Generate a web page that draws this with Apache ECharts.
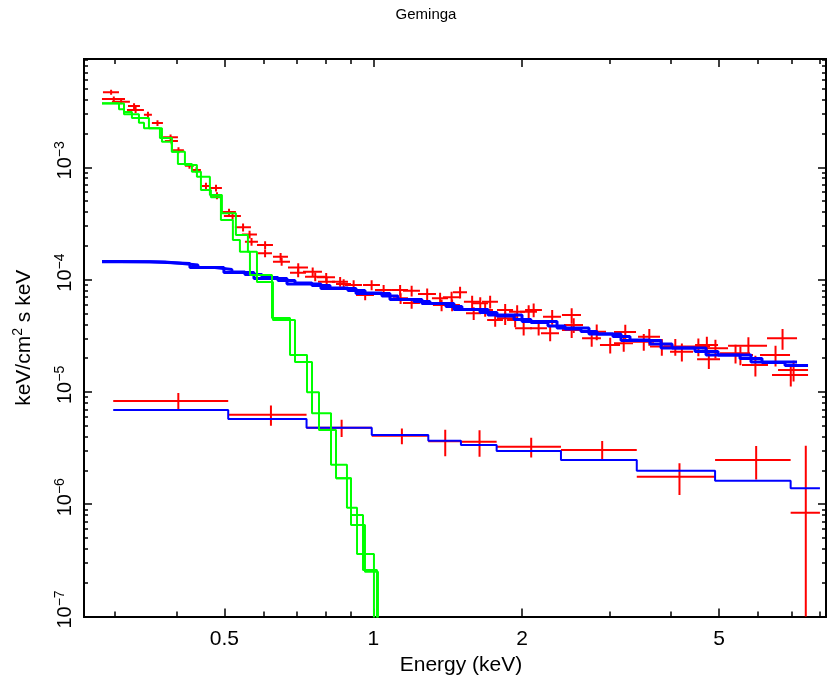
<!DOCTYPE html>
<html>
<head>
<meta charset="utf-8">
<script src="https://cdn.jsdelivr.net/npm/echarts@6/dist/echarts.min.js"></script>
<style>html,body{margin:0;padding:0;background:#fff}#chart{width:828px;height:675px}</style>
</head>
<body>
<div id="chart"></div>
<script>
// ---------------- data (energies in keV, flux in keV/cm^2 s keV) ----------------
const titleText = 'Geminga';
const xTitle = 'Energy (keV)';
const X_MIN = 0.2601, X_MAX = 8.229, Y_MIN = 1e-7, Y_MAX = 9.21e-3;

const xLabelValues = [0.5, 1, 2, 5];
const xMinorTicks = [0.3, 0.4, 0.6, 0.7, 0.8, 0.9, 3, 4, 6, 7, 8];
const yLabelValues = [1e-7, 1e-6, 1e-5, 1e-4, 1e-3];
const yMinorTicks = [2e-7,3e-7,4e-7,5e-7,6e-7,7e-7,8e-7,9e-7,
  2e-6,3e-6,4e-6,5e-6,6e-6,7e-6,8e-6,9e-6,
  2e-5,3e-5,4e-5,5e-5,6e-5,7e-5,8e-5,9e-5,
  2e-4,3e-4,4e-4,5e-4,6e-4,7e-4,8e-4,9e-4,
  2e-3,3e-3,4e-3,5e-3,6e-3,7e-3,8e-3,9e-3];

// bright spectrum: data bins (lo, hi), flux, fractional error
const specA_lo = [0.2841,0.2828,0.2962,0.3192,0.3177,0.3438,0.3568,0.3756,0.3791,0.3935,
  0.4161,0.4299,0.4504,0.4674,0.4718,0.4943,0.4989,0.5251,0.5425,0.5502,
  0.5819,0.5846,0.6269,0.6269,0.6723,0.6786,0.7210,0.7278,0.7695,0.7731,
  0.8253,0.8408,0.8765,0.9532,0.9229,1.0079,1.0909,1.1484,1.0960,1.1484,
  1.2315,1.314,1.383,1.449,1.320,1.390,1.525,1.584,1.659,1.540,
  1.621,1.699,1.779,1.779,1.881,1.980,2.027,1.864,1.935,2.074,
  2.204,2.183,2.407,2.430,2.407,2.643,2.705,2.873,3.067,3.067,
  3.351,3.430,3.627,3.871,3.981,4.289,4.473,4.515,4.621,5.024,
  5.191,5.215,5.566,6.052,6.253,6.400,6.582];
const specA_hi = [0.3061,0.3148,0.3221,0.3375,0.3438,0.3568,0.3756,0.4028,0.4028,0.4141,
  0.4339,0.4483,0.4674,0.4943,0.4943,0.5276,0.5400,0.5658,0.5819,0.5846,
  0.6269,0.6240,0.6723,0.6786,0.7380,0.7312,0.7875,0.7986,0.8369,0.8369,
  0.8889,0.9016,0.9488,1.0316,1.0032,1.0909,1.1754,1.2428,1.1754,1.2428,
  1.339,1.416,1.497,1.547,1.429,1.497,1.644,1.707,1.787,1.652,
  1.746,1.829,1.917,1.917,2.027,2.143,2.193,2.008,2.093,2.245,
  2.396,2.374,2.630,2.655,2.630,2.886,2.955,3.154,3.398,3.351,
  3.695,3.800,4.037,4.289,4.432,4.796,4.978,5.024,5.215,5.777,
  5.858,6.253,6.282,6.960,7.191,7.569,7.569];
const specA_flux = [4.66e-3,4.06e-3,3.84e-3,3.51e-3,3.24e-3,2.94e-3,2.48e-3,1.85e-3,1.71e-3,1.42e-3,
  1.03e-3,9.46e-4,6.81e-4,6.54e-4,5.59e-4,4.00e-4,3.68e-4,2.92e-4,2.52e-4,2.17e-4,
  2.03e-4,1.715e-4,1.60e-4,1.443e-4,1.281e-4,1.152e-4,1.176e-4,1.062e-4,1.049e-4,9.58e-5,
  9.58e-5,9.14e-5,8.95e-5,8.95e-5,7.29e-5,8.08e-5,8.08e-5,7.96e-5,6.82e-5,6.19e-5,
  7.44e-5,6.82e-5,6.96e-5,7.71e-5,5.94e-5,5.94e-5,6.36e-5,6.15e-5,6.36e-5,5.01e-5,
  5.36e-5,4.37e-5,5.36e-5,4.52e-5,5.18e-5,5.18e-5,5.36e-5,4.37e-5,3.69e-5,3.69e-5,
  4.67e-5,3.33e-5,4.84e-5,3.94e-5,3.56e-5,3.00e-5,3.44e-5,2.62e-5,3.42e-5,2.71e-5,
  2.80e-5,3.10e-5,2.53e-5,2.53e-5,2.28e-5,2.53e-5,2.62e-5,1.95e-5,2.45e-5,2.21e-5,
  2.13e-5,2.58e-5,1.736e-5,2.13e-5,3.00e-5,1.414e-5,1.567e-5];
const specA_relErr = [0.05,0.05,0.05,0.06,0.06,0.06,0.06,0.06,0.06,0.06,
  0.06,0.06,0.07,0.07,0.07,0.07,0.07,0.08,0.08,0.08,
  0.08,0.08,0.08,0.08,0.09,0.09,0.09,0.09,0.09,0.09,
  0.10,0.10,0.10,0.10,0.10,0.11,0.11,0.11,0.11,0.11,
  0.12,0.12,0.12,0.12,0.12,0.12,0.13,0.13,0.13,0.13,
  0.13,0.13,0.13,0.13,0.14,0.14,0.14,0.14,0.14,0.14,
  0.15,0.15,0.15,0.15,0.15,0.16,0.16,0.16,0.16,0.16,
  0.17,0.17,0.17,0.17,0.18,0.18,0.18,0.18,0.19,0.19,
  0.19,0.19,0.21,0.21,0.21,0.21,0.21];

// faint spectrum: data bins, flux, error
const specB_edges = [0.298,0.509,0.733,0.993,1.292,1.504,1.776,2.396,3.41,4.91,6.98,8.0];
const specB_flux = [8.30e-6,6.27e-6,4.80e-6,4.07e-6,3.63e-6,3.60e-6,3.25e-6,3.04e-6,1.76e-6,2.48e-6,8.4e-7];
const specB_err  = [1.5e-6,1.28e-6,0.84e-6,0.65e-6,0.96e-6,0.95e-6,0.65e-6,0.61e-6,0.55e-6,0.82e-6,2.48e-6];
const specB_model = [6.90e-6,5.74e-6,4.80e-6,4.13e-6,3.68e-6,3.37e-6,2.98e-6,2.48e-6,1.99e-6,1.62e-6,1.39e-6];

// power-law model histograms for the bright spectrum
const plawA1_edges = [0.2828,0.3075,0.3455,0.3791,0.4065,0.4421,0.4784,0.5178,0.5502,0.5956,0.6417,0.6946,0.7518,0.8176,0.8888,0.9621,1.0413,1.1218,1.2087,1.302,1.4027,1.511,1.644,1.779,1.9256,2.0837,2.2555,2.441,2.630,2.834,3.052,3.304,3.627,4.018,4.473,4.978,5.514,6.109,6.800,7.569];
const plawA1_vals = [1.449e-4,1.443e-4,1.434e-4,1.396e-4,1.349e-4,1.281e-4,1.231e-4,1.169e-4,1.111e-4,1.044e-4,9.82e-5,9.33e-5,8.86e-5,8.42e-5,8.00e-5,7.60e-5,7.15e-5,6.65e-5,6.38e-5,6.12e-5,5.76e-5,5.42e-5,5.09e-5,4.74e-5,4.41e-5,4.15e-5,3.86e-5,3.63e-5,3.45e-5,3.28e-5,3.12e-5,2.90e-5,2.67e-5,2.46e-5,2.29e-5,2.13e-5,1.98e-5,1.827e-5,1.717e-5];
const plawA2_edges = [0.2828,0.3535,0.4259,0.4989,0.5738,0.6692,0.7838,0.9228,1.0808,1.2544,1.4559,1.7064,1.9986,2.3525,2.730,3.1687,3.8177,4.7077,5.804,7.191];
const plawA2_vals = [1.443e-4,1.391e-4,1.281e-4,1.157e-4,1.023e-4,9.14e-5,8.33e-5,7.52e-5,6.65e-5,6.12e-5,5.42e-5,4.84e-5,4.24e-5,3.71e-5,3.28e-5,2.87e-5,2.46e-5,2.13e-5,1.846e-5];

// blackbody model histograms
const bb1_edges = [0.2828,0.3061,0.3133,0.3359,0.3439,0.3739,0.3916,0.4027,0.4299,0.4483,0.4696,0.4920,0.5202,0.5375,0.5632,0.6240,0.6786,0.7346,0.7767,0.8408,0.9016,0.9621,1.0221];
const bb1_vals = [3.715e-3,3.284e-3,2.964e-3,2.495e-3,2.225e-3,1.690e-3,1.377e-3,1.070e-3,9.14e-4,6.28e-4,5.41e-4,3.39e-4,2.25e-4,1.772e-4,1.099e-4,4.55e-5,2.13e-5,9.92e-6,4.58e-6,1.698e-6,6.53e-7,2.50e-7];
const bb2_edges = [0.2828,0.3133,0.3251,0.3519,0.3704,0.3916,0.4161,0.4400,0.4674,0.4943,0.5275,0.5579,0.5819,0.6269,0.6946,0.7518,0.8214,0.8847,0.9272,1.0032];
const bb2_vals = [3.700e-3,3.107e-3,2.747e-3,2.225e-3,1.823e-3,1.377e-3,1.048e-3,8.24e-4,5.67e-4,3.90e-4,2.49e-4,1.772e-4,9.52e-5,4.37e-5,1.846e-5,6.45e-6,2.24e-6,9.31e-7,3.60e-7];
const bb3_edges = [0.8408,0.9016,0.9532,1.0173];
const bb3_vals = [1.698e-6,8.01e-7,2.59e-7];

// ---------------- build ----------------
const FONT = 'Liberation Sans, Arial, sans-serif';
function stepData(edges, vals, drop) {
  const d = [];
  for (let i = 0; i < vals.length; i++) d.push([edges[i], vals[i]]);
  d.push([edges[vals.length], vals[vals.length - 1]]);
  if (drop) d.push([edges[vals.length], 1e-12]);
  return d;
}
const crossA = specA_flux.map((f, i) => {
  const df = f * specA_relErr[i];
  return [specA_lo[i], specA_hi[i], f, Math.max(f - df, Y_MIN * 0.5), f + df];
});
const crossB = specB_flux.map((f, i) => {
  const df = specB_err[i];
  return [specB_edges[i], specB_edges[i + 1], f, Math.max(f - df, Y_MIN * 0.5), f + df];
});
function crossRender(params, api) {
  const lo = api.value(0), hi = api.value(1), f = api.value(2), fl = api.value(3), fh = api.value(4);
  const c = (lo + hi) / 2;
  const a = api.coord([lo, f]), b = api.coord([hi, f]);
  const t = api.coord([c, fh]), u = api.coord([c, fl]);
  const st = { stroke: '#ff0000', lineWidth: 2 };
  return { type: 'group', children: [
    { type: 'line', shape: { x1: a[0], y1: a[1], x2: b[0], y2: b[1] }, style: st },
    { type: 'line', shape: { x1: t[0], y1: t[1], x2: u[0], y2: u[1] }, style: st }
  ]};
}
function stepSeries(data, color, width) {
  return { type: 'line', step: 'end', data: data, showSymbol: false, symbol: 'none',
    lineStyle: { color: color, width: width }, itemStyle: { color: color },
    clip: true, silent: true, z: 3 };
}
const axisLineStyle = { show: true, lineStyle: { color: '#000', width: 2 } };
function xAx(pos, ticks, len, withLabels) {
  return { type: 'log', position: pos, min: X_MIN, max: X_MAX, gridIndex: 0,
    axisLine: axisLineStyle, splitLine: { show: false },
    axisTick: { show: true, inside: true, length: len, customValues: ticks, lineStyle: { color: '#000', width: 1.5 } },
    axisLabel: withLabels ? { show: true, customValues: xLabelValues, margin: 12, color: '#000',
      fontFamily: FONT, fontSize: 21, formatter: v => String(+v.toPrecision(3)) } : { show: false } };
}
function yAx(pos, ticks, len, withLabels) {
  return { type: 'log', position: pos, min: Y_MIN, max: Y_MAX, gridIndex: 0,
    axisLine: axisLineStyle, splitLine: { show: false },
    axisTick: { show: true, inside: true, length: len, customValues: ticks, lineStyle: { color: '#000', width: 1.5 } },
    axisLabel: withLabels ? { show: true, customValues: yLabelValues, rotate: 90, margin: 9,
      padding: [0, 0, 0, 14], color: '#000',
      formatter: v => '{b|10}{s|\u2212' + Math.round(-Math.log10(v)) + '}',
      rich: { b: { fontFamily: FONT, fontSize: 20, lineHeight: 22, padding: [8, 0, 0, 0], verticalAlign: 'bottom', color: '#000' },
              s: { fontFamily: FONT, fontSize: 14, lineHeight: 14, verticalAlign: 'top', color: '#000' } } } : { show: false } };
}
const xAxes = [xAx('bottom', xLabelValues, 8, true), xAx('bottom', xMinorTicks, 5, false),
               xAx('top', xLabelValues, 8, false), xAx('top', xMinorTicks, 5, false)];
xAxes[0].name = xTitle;
xAxes[0].nameLocation = 'middle';
xAxes[0].nameGap = 31;
xAxes[0].nameTextStyle = { fontFamily: FONT, fontSize: 21, color: '#000', padding: [0, 0, 0, 12] };
const yAxes = [yAx('left', yLabelValues, 8, true), yAx('left', yMinorTicks, 4, false),
               yAx('right', yLabelValues, 8, false), yAx('right', yMinorTicks, 4, false)];
yAxes[0].name = '{n|keV/cm}{s|2}{n| s keV}';
yAxes[0].nameLocation = 'middle';
yAxes[0].nameGap = 49;
yAxes[0].nameTextStyle = { color: '#000', rich: {
  n: { fontFamily: FONT, fontSize: 21, lineHeight: 24, verticalAlign: 'bottom', color: '#000' },
  s: { fontFamily: FONT, fontSize: 14, lineHeight: 14, verticalAlign: 'top', color: '#000' } } };

const chart = echarts.init(document.getElementById('chart'), null, { renderer: 'canvas' });
chart.setOption({
  animation: false,
  backgroundColor: '#fff',
  grid: { left: 84, right: 2, top: 59, bottom: 58.5, containLabel: false, outerBoundsMode: 'none' },
  graphic: [{ type: 'text', x: 426, y: 15, style: { text: titleText, fontFamily: FONT, fontSize: 15,
    fill: '#000', textAlign: 'center', textVerticalAlign: 'middle' } }],
  xAxis: xAxes,
  yAxis: yAxes,
  series: [
    { type: 'custom', name: 'bright data', renderItem: crossRender, data: crossA, clip: true, z: 2,
      encode: { x: [0, 1], y: [2, 3, 4] }, silent: true },
    { type: 'custom', name: 'faint data', renderItem: crossRender, data: crossB, clip: true, z: 2,
      encode: { x: [0, 1], y: [2, 3, 4] }, silent: true },
    stepSeries(stepData(plawA1_edges, plawA1_vals, false), '#0000ff', 3),
    stepSeries(stepData(plawA2_edges, plawA2_vals, false), '#0000ff', 3),
    stepSeries(stepData(specB_edges, specB_model, false), '#0000ff', 2),
    stepSeries(stepData(bb1_edges, bb1_vals, true), '#00ff00', 2),
    stepSeries(stepData(bb2_edges, bb2_vals, true), '#00ff00', 2),
    stepSeries(stepData(bb3_edges, bb3_vals, true), '#00ff00', 2)
  ]
});
</script>
</body>
</html>
